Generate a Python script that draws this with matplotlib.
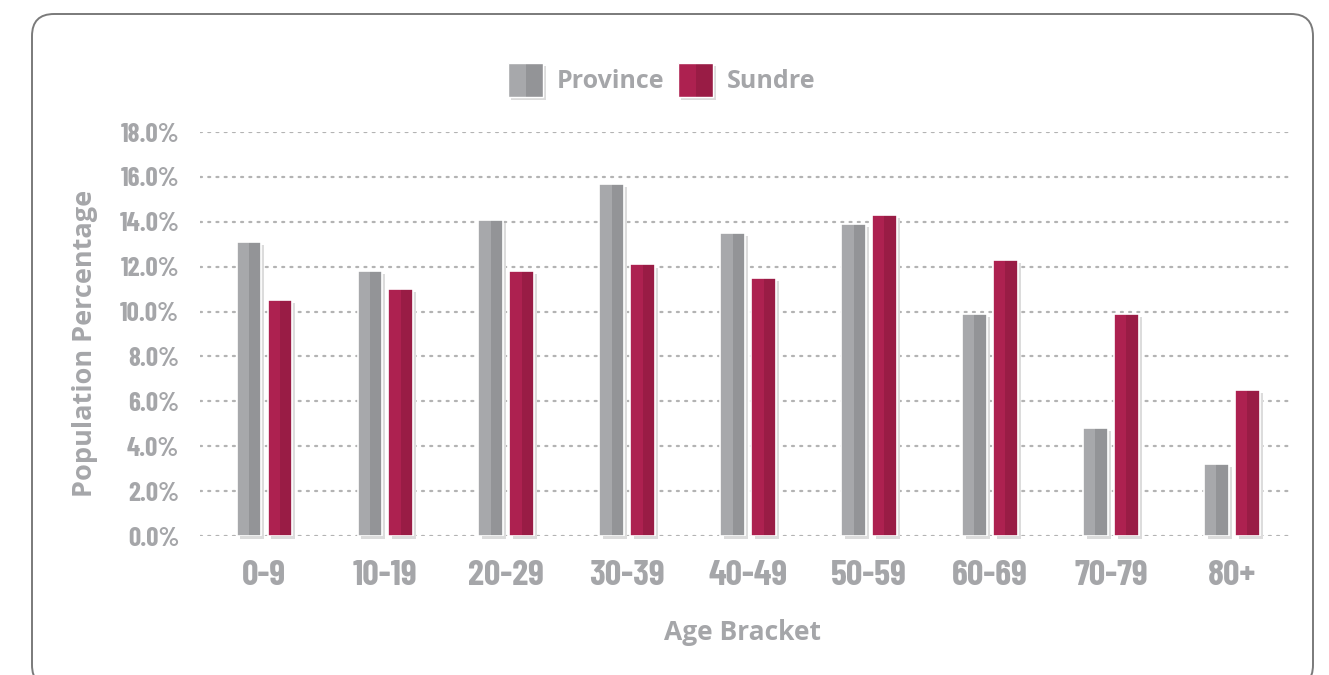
import matplotlib
matplotlib.use("Agg")
import matplotlib.pyplot as plt
from matplotlib.patches import FancyBboxPatch, Rectangle
import numpy as np

brackets = ["0-9", "10-19", "20-29", "30-39", "40-49", "50-59", "60-69", "70-79", "80+"]
province = [13.1, 11.8, 14.1, 15.7, 13.5, 13.9, 9.9, 4.8, 3.2]
sundre = [10.5, 11.0, 11.8, 12.1, 11.5, 14.3, 12.3, 9.9, 6.5]
yticks = [0, 2, 4, 6, 8, 10, 12, 14, 16, 18]

GREY = ("#a7a8ab", "#939497")
WINE = ("#ad2150", "#991c45")
TEXT = "#a5a6a9"
COND = ["Barlow Condensed", "Saira Condensed", "DejaVu Sans"]
SANS = ["Open Sans", "DejaVu Sans"]

W, H = 1329, 675
fig = plt.figure(figsize=(W / 100, H / 100), dpi=100)

# pixel-space overlay (origin bottom-left) for the frame, labels and legend
bg = fig.add_axes([0, 0, 1, 1])
bg.set_xlim(0, W)
bg.set_ylim(0, H)
bg.axis("off")
# rounded frame; its bottom edge sits just below the canvas
bg.add_patch(FancyBboxPatch((32, -12), 1281, H - 14 + 12,
                            boxstyle="round,pad=0,rounding_size=22",
                            fill=False, ec="#7a7a7a", lw=1.4, clip_on=False))

ax = fig.add_axes([200 / W, 139 / H, 1090 / W, 404 / H])
ax.set_xlim(-0.53, 8.48)
ax.set_ylim(0, 18)
ax.patch.set_alpha(0)

for y in yticks:
    ax.axhline(y, color="#b3b3b3", lw=1.6, ls=(0, (0.9, 2.8)),
               dash_capstyle="round", zorder=0)

x = np.arange(len(brackets))
w = 0.2
off = 0.128
sx, sy = 0.028, 0.14  # shadow offset in data units


def draw_bars(xs, vals, colors):
    for xc, v in zip(xs, vals):
        left = xc - w / 2
        ax.add_patch(Rectangle((left + sx, -sy), w, v, fc="#dcdcdc",
                               ec="none", zorder=1, clip_on=False))
        ax.add_patch(Rectangle((left, 0), w / 2, v, fc=colors[0],
                               ec="none", zorder=3))
        ax.add_patch(Rectangle((left + w / 2, 0), w / 2, v, fc=colors[1],
                               ec="none", zorder=3))
        ax.add_patch(Rectangle((left, 0), w, v, fc="none", ec="white",
                               lw=1.2, zorder=4))


draw_bars(x - off, province, GREY)
draw_bars(x + off, sundre, WINE)

ax.set_yticks(yticks)
ax.set_yticklabels([f"{v:.1f}%" for v in yticks], family=COND,
                   fontsize=19.5, fontweight="bold", color=TEXT)
ax.set_xticks(x)
ax.set_xticklabels(brackets, family=COND, fontsize=26, fontweight="bold",
                   color=TEXT)
ax.tick_params(axis="y", length=0, pad=15)
ax.tick_params(axis="x", length=0, pad=17)
for s in ax.spines.values():
    s.set_visible(False)

bg.text(85, H - 343, "Population Percentage", family=SANS, fontsize=19.5,
        fontweight="bold", color=TEXT, rotation=90, ha="center", va="center")
bg.text(743, H - 633, "Age Bracket", family=SANS, fontsize=19,
        fontweight="bold", color=TEXT, ha="center", va="center")


# legend: two-tone swatches with a soft shadow
def swatch(px, colors, label, tx):
    top, h, ww = 63, 34, 35
    y0 = H - top - h
    bg.add_patch(Rectangle((px + 3, y0 - 3), ww, h, fc="#dcdcdc", ec="none"))
    bg.add_patch(Rectangle((px, y0), ww / 2, h, fc=colors[0], ec="none"))
    bg.add_patch(Rectangle((px + ww / 2, y0), ww / 2, h, fc=colors[1], ec="none"))
    bg.add_patch(Rectangle((px, y0), ww, h, fc="none", ec="white", lw=1.0))
    bg.text(tx, H - 81, label, family=SANS, fontsize=18, fontweight="bold",
            color=TEXT, ha="left", va="center")


swatch(508, GREY, "Province", 557)
swatch(678, WINE, "Sundre", 727)

fig.savefig("out.png", dpi=100)
